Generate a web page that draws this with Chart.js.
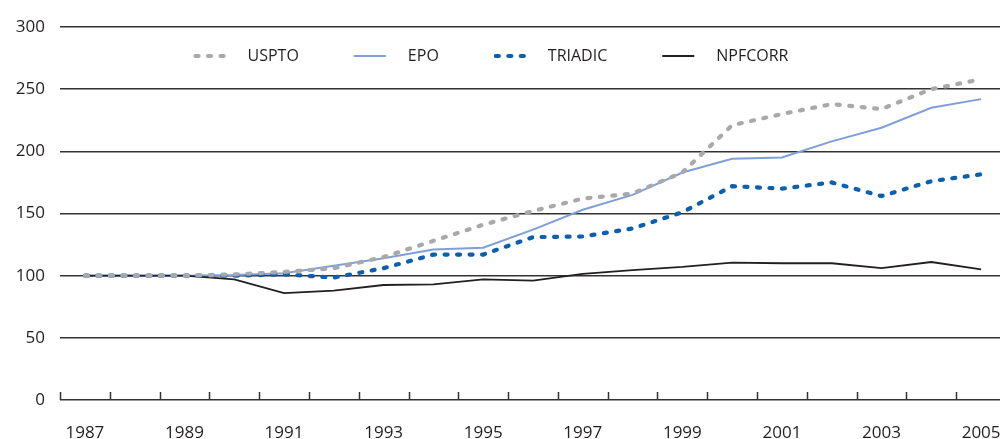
<html>
<head>
<meta charset="UTF-8">
<title>Patent indices 1987-2005</title>
<script src="https://cdn.jsdelivr.net/npm/chart.js@4/dist/chart.umd.min.js"></script>
<style>
  html, body { margin: 0; padding: 0; background: #fff; overflow: hidden; }
  #wrap { width: 1000px; height: 439px; overflow: hidden; }
  canvas { display: block; }
</style>
</head>
<body>
<div id="wrap">
  <canvas id="myChart" width="1010" height="439"></canvas>
</div>
<script>
// data (index, 1987 = 100)
var years = ["1987", "1988", "1989", "1990", "1991", "1992", "1993", "1994", "1995", "1996",
             "1997", "1998", "1999", "2000", "2001", "2002", "2003", "2004", "2005"];
var uspto   = [100, 100, 100, 101, 103, 106, 115, 128, 141, 152, 162, 166, 183, 221, 230, 238, 234, 250, 258];
var epo     = [100, 100, 100, 100.5, 102, 108, 114, 121, 122.5, 137, 153, 165, 183, 194, 195, 208, 219, 235, 242];
var triadic = [100, 100, 100, 100, 101, 98.5, 106, 117, 117, 131, 131.5, 138, 151, 172, 170, 175, 164, 176, 181.5];
var npfcorr = [100, 100, 100, 97, 86, 88, 92.5, 93, 97, 96, 101.5, 104.5, 107, 110.5, 110, 110, 106, 111, 105];
var yTicks  = [0, 50, 100, 150, 200, 250, 300];

var fontFam = "'Open Sans', 'Noto Sans', sans-serif";
var ink = "#231f20";

// short upward ticks on the x axis, at the category boundaries
var xTickMarks = {
  id: 'xTickMarks',
  afterDraw: function(chart) {
    var xs = chart.scales.x, area = chart.chartArea, ctx = chart.ctx;
    var half = (xs.getPixelForValue(1) - xs.getPixelForValue(0)) / 2;
    ctx.save();
    ctx.strokeStyle = "#333333";
    ctx.lineWidth = 1.5;
    ctx.beginPath();
    for (var i = 0; i <= years.length; i++) {
      var x = Math.round(xs.getPixelForValue(i) - half) + 0.5;
      ctx.moveTo(x, area.bottom);
      ctx.lineTo(x, area.bottom - 8);
    }
    ctx.stroke();
    ctx.restore();
  }
};

// legend drawn inside the plot, one row
var innerLegend = {
  id: 'innerLegend',
  afterDatasetsDraw: function(chart) {
    var ctx = chart.ctx;
    var sets = chart.data.datasets;
    var mark = 32, gap = 22, itemGap = 55, cy = 56;
    ctx.save();
    ctx.font = "16px " + fontFam;
    var total = 0;
    sets.forEach(function(ds, i) {
      total += mark + gap + ctx.measureText(ds.label).width + (i < sets.length - 1 ? itemGap : 0);
    });
    var x = 491 - total / 2;
    sets.forEach(function(ds) {
      ctx.save();
      ctx.strokeStyle = ds.borderColor;
      ctx.lineWidth = ds.borderWidth;
      ctx.lineCap = ds.borderCapStyle || 'butt';
      ctx.setLineDash(ds.borderDash || []);
      ctx.beginPath();
      if (ds.borderDash) {
        ctx.moveTo(x + 2, cy);
        ctx.lineTo(x + mark, cy);
      } else {
        ctx.moveTo(x, cy);
        ctx.lineTo(x + mark, cy);
      }
      ctx.stroke();
      ctx.restore();
      ctx.fillStyle = ink;
      ctx.textBaseline = 'middle';
      ctx.fillText(ds.label, x + mark + gap, cy);
      x += mark + gap + ctx.measureText(ds.label).width + itemGap;
    });
    ctx.restore();
  }
};

var ctx = document.getElementById('myChart').getContext('2d');
var chart = new Chart(ctx, {
  type: 'line',
  data: {
    labels: years,
    datasets: [{
      label: "USPTO",
      data: uspto,
      borderColor: "#a7a9ac",
      borderWidth: 4.2,
      borderDash: [3, 9.5],
      borderCapStyle: 'round',
      order: 0
    }, {
      label: "EPO",
      data: epo,
      borderColor: "#7f9fd8",
      borderWidth: 2,
      order: 3
    }, {
      label: "TRIADIC",
      data: triadic,
      borderColor: "#0a5fb0",
      borderWidth: 4.2,
      borderDash: [3, 9.5],
      borderCapStyle: 'round',
      order: 1
    }, {
      label: "NPFCORR",
      data: npfcorr,
      borderColor: ink,
      borderWidth: 1.8,
      order: 2
    }]
  },
  options: {
    responsive: false,
    animation: false,
    devicePixelRatio: 1,
    elements: {
      point: { radius: 0, hoverRadius: 0 },
      line: { tension: 0, fill: false }
    },
    layout: {
      padding: { left: 0, right: 4, top: 27, bottom: 0 }
    },
    plugins: {
      legend: { display: false },
      tooltip: { enabled: false }
    },
    scales: {
      x: {
        offset: true,
        grid: { display: false },
        border: { display: false },
        ticks: {
          autoSkip: false,
          maxRotation: 0,
          padding: 15,
          color: ink,
          font: { family: fontFam, size: 17 },
          callback: function(v, i) { return i % 2 === 0 ? years[i] : ''; }
        },
        afterFit: function(s) { s.height = 39; s.paddingLeft = 0; s.paddingRight = 0; }
      },
      y: {
        min: yTicks[0],
        max: yTicks[yTicks.length - 1],
        afterBuildTicks: function(s) { s.ticks = yTicks.map(function(v) { return { value: v }; }); },
        grid: { color: "#333333", lineWidth: 1.5, drawTicks: false },
        border: { display: false },
        ticks: {
          padding: 15,
          color: ink,
          font: { family: fontFam, size: 17 }
        },
        afterFit: function(s) { s.width = 60; }
      }
    }
  },
  plugins: [xTickMarks, innerLegend]
});
</script>
</body>
</html>
